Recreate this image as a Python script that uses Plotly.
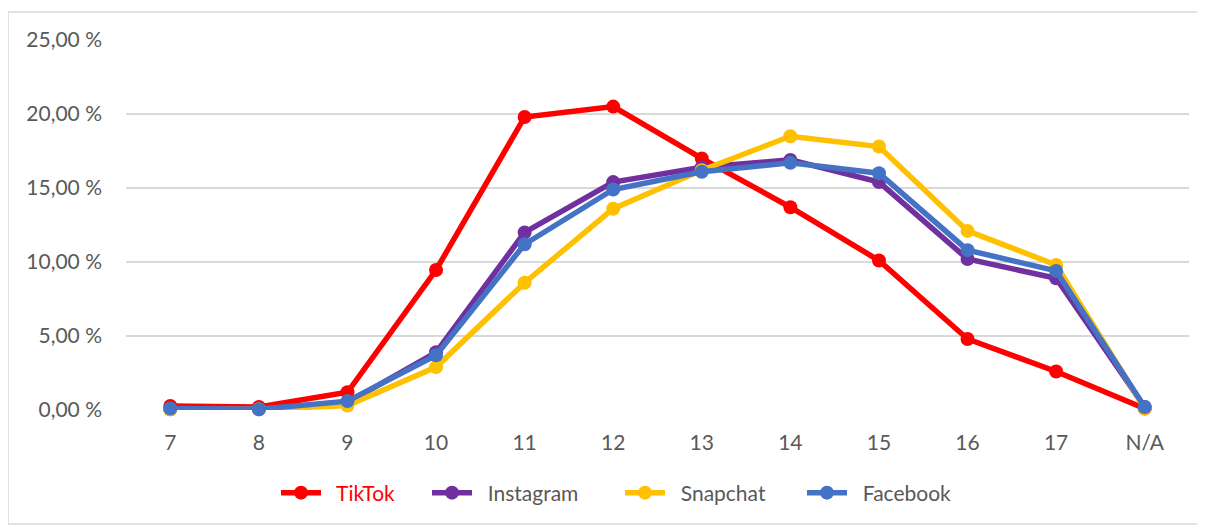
import plotly.graph_objects as go

categories = ["7", "8", "9", "10", "11", "12", "13", "14", "15", "16", "17", "N/A"]
tiktok = [0.27, 0.2, 1.2, 9.46, 19.8, 20.5, 17.0, 13.7, 10.1, 4.8, 2.6, 0.1]
instagram = [0.05, 0.05, 0.5, 3.9, 12.0, 15.4, 16.4, 16.9, 15.4, 10.2, 8.9, 0.2]
snapchat = [0.05, 0.05, 0.3, 2.9, 8.6, 13.6, 16.2, 18.5, 17.8, 12.1, 9.8, 0.1]
facebook = [0.1, 0.05, 0.6, 3.7, 11.2, 14.9, 16.1, 16.7, 16.0, 10.8, 9.4, 0.2]
ytick_vals = [0, 5, 10, 15, 20, 25]
ytick_text = ["0,00 %", "5,00 %", "10,00 %", "15,00 %", "20,00 %", "25,00 %"]

series = [
    ("TikTok", tiktok, "#FF0000", "#FF0000"),
    ("Instagram", instagram, "#7030A0", "#595959"),
    ("Snapchat", snapchat, "#FFC000", "#595959"),
    ("Facebook", facebook, "#4472C4", "#595959"),
]
legend_px = [276, 427, 620, 802]  # screenshot x of each legend entry

# page body has an 8px margin; positions below are in screenshot pixels minus 8
OFF = 8
W, H = 1205 - OFF, 525 - OFF
ml, mr, mt, mb = 126 - OFF, 16, 40 - OFF, 115
pw, ph = W - ml - mr, H - mt - mb

def px_x(x):
    return (x - OFF - ml) / pw

def px_y(y):
    return (H - mb - (y - OFF)) / ph

fig = go.Figure()
legends = {}
for i, (name, vals, color, tcolor) in enumerate(series):
    lname = "legend" if i == 0 else f"legend{i + 1}"
    fig.add_trace(go.Scatter(
        x=categories, y=vals, name="\u00a0\u00a0" + name, mode="lines+markers",
        line=dict(color=color, width=5.5),
        marker=dict(color=color, size=14),
        cliponaxis=False, legend=lname, showlegend=True,
    ))
    legends[lname] = dict(orientation="h", x=px_x(legend_px[i]), xanchor="left",
                          y=px_y(493), yanchor="middle", bgcolor="rgba(0,0,0,0)",
                          font=dict(size=21, color=tcolor), itemwidth=40)

fig.update_layout(
    width=W, height=H,
    showlegend=True,
    margin=dict(l=ml, r=mr, t=mt, b=mb),
    paper_bgcolor="white", plot_bgcolor="white",
    font=dict(family="Lato, 'Open Sans', sans-serif", color="#595959", size=21),
    xaxis=dict(type="category", showgrid=False, zeroline=False, showline=False,
               ticks="", ticklabelstandoff=18, tickfont=dict(size=21),
               range=[-0.5, 11.5]),
    yaxis=dict(range=[0, 25], tickvals=ytick_vals, ticktext=ytick_text,
               showgrid=True, gridcolor="#D9D9D9", gridwidth=2, zeroline=False,
               showline=False, ticks="", ticklabelstandoff=23, tickfont=dict(size=21)),
    shapes=[dict(type="rect", xref="paper", yref="paper",
                 x0=px_x(8), x1=px_x(1204),
                 y0=px_y(524), y1=px_y(12),
                 line=dict(color="#D9D9D9", width=1.5), fillcolor="rgba(0,0,0,0)",
                 layer="below")],
    **legends,
)

fig.write_html("out.html")
